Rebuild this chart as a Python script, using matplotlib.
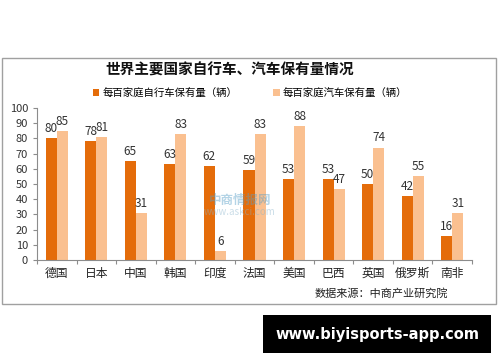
import matplotlib
matplotlib.use('Agg')
import matplotlib.pyplot as plt
from matplotlib.patches import Rectangle
import numpy as np

plt.rcParams['font.family'] = ['Noto Sans CJK SC', 'DejaVu Sans']

countries = ['德国', '日本', '中国', '韩国', '印度', '法国', '美国', '巴西', '英国', '俄罗斯', '南非']
bikes = [80, 78, 65, 63, 62, 59, 53, 53, 50, 42, 16]
cars = [85, 81, 31, 83, 6, 83, 88, 47, 74, 55, 31]
bike_label = '每百家庭自行车保有量（辆）'
car_label = '每百家庭汽车保有量（辆）'

dark = '#E46C0A'
light = '#FAC090'
axis_gray = '#8c8c8c'

fig = plt.figure(figsize=(5, 3.62), dpi=100)
W, H = 500, 362

# outer chart frame
fig.patches.append(Rectangle((2 / W, 1 - 304 / H), 494 / W, 246 / H,
                             transform=fig.transFigure, fill=False,
                             edgecolor='#a0a0a0', linewidth=1))

ax = fig.add_axes([37 / W, 1 - 260 / H, 435 / W, 152 / H])
x = np.arange(len(countries))
bw = 0.28
b1 = ax.bar(x - bw / 2, bikes, bw, color=dark, label=bike_label)
b2 = ax.bar(x + bw / 2, cars, bw, color=light, label=car_label)

for rect, v in zip(b1, bikes):
    ax.text(rect.get_x() + rect.get_width() / 2, v + 2, str(v),
            ha='center', va='bottom', fontsize=8.5, color='#333333')
for rect, v in zip(b2, cars):
    ax.text(rect.get_x() + rect.get_width() / 2, v + 2, str(v),
            ha='center', va='bottom', fontsize=8.5, color='#333333')

ax.set_xlim(-0.5, len(countries) - 0.5)
ax.set_ylim(0, 100)
ax.set_yticks(range(0, 101, 10))
ax.tick_params(axis='y', labelsize=8, colors=axis_gray, labelcolor='#333333',
               length=3, direction='out')
ax.set_xticks(np.arange(-0.5, len(countries), 1))
ax.set_xticklabels([])
ax.set_xticks(x, minor=True)
ax.set_xticklabels(countries, minor=True, fontsize=8.5, color='#222222')
ax.tick_params(axis='x', which='major', length=3, colors=axis_gray)
ax.tick_params(axis='x', which='minor', length=0, pad=5)
for s in ['top', 'right']:
    ax.spines[s].set_visible(False)
for s in ['left', 'bottom']:
    ax.spines[s].set_color(axis_gray)

fig.text(230 / W, 1 - 70 / H, '世界主要国家自行车、汽车保有量情况',
         ha='center', va='center', fontsize=10.5, fontweight='bold', color='#111111')

leg = fig.legend(handles=[b1, b2], loc='center', bbox_to_anchor=(250 / W, 1 - 93 / H),
                 ncol=2, frameon=False, fontsize=7.5, handlelength=0.6, handleheight=0.6,
                 columnspacing=3.5, handletextpad=0.3)

fig.text(448 / W, 1 - 293 / H, '数据来源：中商产业研究院',
         ha='right', va='center', fontsize=8, color='#222222')

# faint center watermark
fig.text(240 / W, 1 - 200 / H, '中商情报网', ha='center', va='center',
         fontsize=9, color='#5aa0c8', alpha=0.45, fontweight='bold')
fig.text(240 / W, 1 - 212 / H, 'www.askci.com', ha='center', va='center',
         fontsize=7, color='#8ab4cc', alpha=0.45)

# bottom black banner
fig.patches.append(Rectangle((263 / W, 1 - 353 / H), 228 / W, 38 / H,
                             transform=fig.transFigure, facecolor='black',
                             edgecolor='none'))
fig.text(377 / W, 1 - 335 / H, 'www.biyisports-app.com', ha='center', va='center',
         fontsize=10.5, fontweight='bold', color='white', family=['DejaVu Sans'])

fig.savefig('out.png', dpi=100)
